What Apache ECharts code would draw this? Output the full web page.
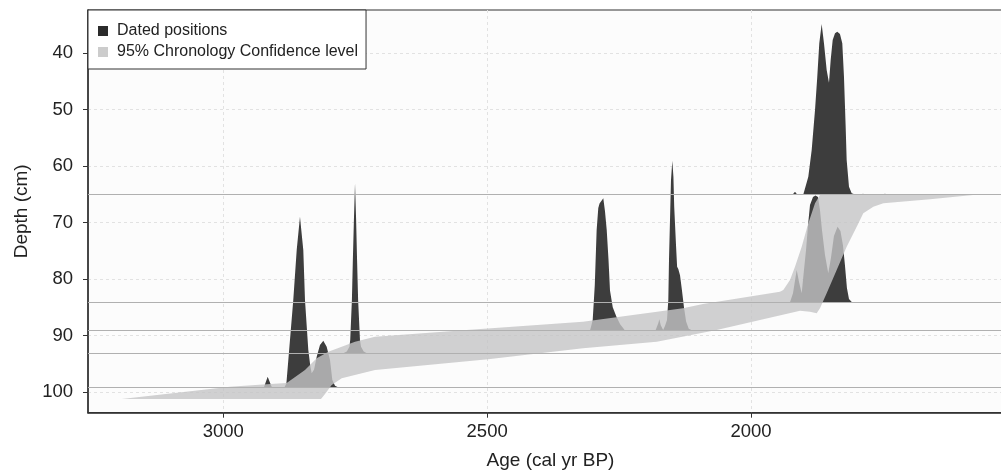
<!DOCTYPE html>
<html>
<head>
<meta charset="utf-8">
<script src="https://cdn.jsdelivr.net/npm/echarts@6/dist/echarts.min.js"></script>
<style>
  html, body { margin: 0; padding: 0; background: #fff; overflow: hidden; }
  #chart { width: 1001px; height: 474px; }
</style>
</head>
<body>
<div id="chart"></div>
<script>
const xTicks = [3000, 2500, 2000];
const yTicks = [40, 50, 60, 70, 80, 90, 100];
const datedDepths = [65.0, 84.1, 89.1, 93.15, 99.2];

// probability densities of the dated positions, [age, depth], closed on their depth line
const peak65 = [
  [1921, 65.0], [1916.6, 64.52], [1912.5, 65.0],
  [1900.9, 65.0], [1891.4, 61.86], [1885.0, 57.13], [1878.7, 50.04], [1874.4, 44.15],
  [1870.6, 38.23], [1866.1, 34.81], [1861.7, 38.23], [1856.6, 42.96], [1852.2, 45.21],
  [1849.0, 41.19], [1845.2, 37.64], [1840.8, 36.46], [1836.5, 36.17], [1831.4, 36.58],
  [1827.0, 38.23], [1823.8, 44.15], [1820.6, 53.0], [1818.7, 58.9], [1814.3, 63.63],
  [1809.2, 64.8], [1802.9, 65.0],
  [1791, 65.0], [1787.8, 64.86], [1784, 65.0], [1750, 65.0], [1746.1, 64.9], [1742, 65.0]
];
const peak84 = [
  [1926.1, 84.1], [1920.4, 82.5], [1913.4, 78.39], [1909.0, 80.5], [1903.9, 82.5],
  [1899.6, 78.39], [1895.7, 74.85], [1891.9, 70.4], [1888.2, 66.87], [1882.5, 65.45],
  [1877.8, 65.2], [1873.1, 65.45], [1869.3, 67.76], [1865.5, 71.3], [1859.8, 75.73],
  [1853.6, 78.97], [1848.5, 76.27], [1842.8, 72.37], [1836.0, 70.72], [1830.5, 71.48],
  [1825.8, 73.96], [1822.0, 77.5], [1818.2, 81.58], [1814.3, 83.53], [1808.6, 84.1]
];
const peak89a = [
  [2305.1, 89.1], [2303, 88.4], [2300, 87.25], [2296, 81.0], [2292.5, 71.3],
  [2289.4, 67.4], [2287, 66.6], [2279.9, 65.69], [2276.7, 68.0], [2273.4, 71.3],
  [2270, 76.6], [2267.2, 82.0], [2262, 85.0], [2255, 86.66], [2248, 88.0], [2238.8, 89.1]
];
const peak89b = [
  [2181, 89.1], [2175.5, 87.8], [2173.8, 87.12], [2171, 88.2], [2166.5, 89.0],
  [2163, 88.3], [2159.2, 87.25], [2156.7, 83.7], [2155.4, 76.62], [2153.5, 69.53],
  [2151.6, 62.45], [2149.1, 59.03], [2147, 61.9], [2145.5, 67.2], [2142.1, 74.0],
  [2140, 77.8], [2137.8, 78.2], [2134.5, 79.3], [2130.8, 82.0], [2127, 85.0],
  [2123, 87.5], [2118, 88.8], [2111, 89.1]
];
const peak93 = [
  [2772.6, 93.15], [2766, 92.85], [2761, 92.0], [2759.5, 90.79], [2756.3, 83.7],
  [2754.5, 76.6], [2752.5, 69.53], [2750.4, 63.03], [2748.3, 69.53], [2746.5, 76.6],
  [2744.5, 83.7], [2741, 90.79], [2739, 92.0], [2734, 92.85], [2728, 93.15]
];
const peak99 = [
  [2923, 99.17], [2915.9, 97.29], [2908, 99.17], [2884, 99.17], [2880.5, 98.5],
  [2879.9, 97.87], [2867.4, 83.7], [2860.9, 74.85], [2854.7, 68.95], [2848.4, 74.85],
  [2845.2, 83.7], [2838.9, 92.56], [2835, 95.5], [2832.5, 96.69], [2828, 96.0],
  [2823.0, 93.75], [2816.8, 91.67], [2810.5, 90.91], [2804.1, 91.98], [2797.8, 94.33],
  [2793.4, 97.87], [2788.3, 98.9], [2782.6, 99.17]
];

// 95% confidence envelope outline, [age, depth]
const band = [
  [3192.5, 101.24], [2987.3, 99.06], [2917.8, 98.64], [2879.9, 98.41], [2845.2, 96.1],
  [2823.0, 94.03], [2801.0, 92.86], [2775.6, 91.98], [2750.4, 91.09], [2712.5, 90.2],
  [2538.8, 89.02], [2318.4, 87.55], [2128.9, 85.17], [2090.9, 84.41], [1945.1, 82.23],
  [1938.8, 81.93], [1926.1, 80.16], [1916.6, 77.8], [1903.9, 74.26], [1891.4, 70.12],
  [1878.7, 66.57], [1869.3, 65.1], [1865.5, 65.0], [1569.8, 65.0],
  [1660.8, 65.86], [1749.3, 66.57], [1768.2, 67.17], [1787.2, 68.34], [1799.7, 70.72],
  [1818.7, 74.26], [1837.6, 78.39], [1856.6, 82.52], [1869.3, 85.17], [1875.5, 86.06],
  [1888.2, 85.78], [1907, 85.6], [2065.0, 89.02], [2178.7, 91.09], [2318.4, 92.26],
  [2498.4, 94.21], [2712.5, 96.1], [2775.6, 97.57], [2794.6, 98.76], [2807.3, 100.35],
  [2814.9, 101.24]
];

const PEAK = '#3d3d3d';
const BAND = 'rgba(196,196,198,0.8)';

function polygon(name, pts, fill, z) {
  return {
    type: 'custom',
    name: name,
    z: z,
    silent: true,
    clip: true,
    data: pts,
    encode: { x: 0, y: 1 },
    renderItem: function (params, api) {
      if (params.dataIndex !== 0) return null;
      return {
        type: 'polygon',
        shape: { points: pts.map(p => api.coord(p)) },
        style: { fill: fill }
      };
    }
  };
}

const chart = echarts.init(document.getElementById('chart'), null, { renderer: 'canvas' });
const font = "'Liberation Sans', Arial, Helvetica, sans-serif";

const series = [
  {
    type: 'line',
    name: 'lines',
    data: [],
    z: 1,
    silent: true,
    markLine: {
      silent: true,
      symbol: 'none',
      label: { show: false },
      lineStyle: { color: '#b0b0b0', width: 1, type: 'solid' },
      data: datedDepths.map(d => ({ yAxis: d }))
    }
  }
];
[peak65, peak84, peak89a, peak89b, peak93, peak99].forEach(p => {
  series.push(polygon('Dated positions', p, PEAK, 2));
});
series.push(polygon('95% Chronology Confidence level', band, BAND, 3));

chart.setOption({
  animation: false,
  backgroundColor: '#fff',
  textStyle: { fontFamily: font },
  grid: {
    left: 88, top: 10, width: 925, height: 402.7,
    outerBoundsMode: 'none',
    containLabel: false,
    show: true, backgroundColor: '#fcfcfc', borderColor: '#333', borderWidth: 1.2
  },
  legend: {
    left: 88, top: 10, orient: 'vertical',
    padding: [13, 8, 9, 10],
    itemWidth: 10, itemHeight: 10, itemGap: 5,
    backgroundColor: '#fff', borderColor: '#333', borderWidth: 1,
    textStyle: { fontSize: 16, color: '#222', fontFamily: font, padding: [0, 0, 0, 4] },
    data: [
      { name: 'Dated positions', icon: 'rect', itemStyle: { color: '#2b2b2b' } },
      { name: '95% Chronology Confidence level', icon: 'rect', itemStyle: { color: '#cccccc' } }
    ],
    selectedMode: false
  },
  xAxis: {
    type: 'value',
    inverse: true,
    min: 1503.5,
    max: 3256.4,
    name: 'Age (cal yr BP)',
    nameLocation: 'middle',
    nameGap: 39,
    nameTextStyle: { fontSize: 19, color: '#222', fontFamily: font },
    axisLine: { show: true, lineStyle: { color: '#333', width: 1.5 } },
    axisTick: { show: true, length: 5, customValues: xTicks, lineStyle: { color: '#333' } },
    axisLabel: {
      customValues: xTicks, fontSize: 18.5, color: '#222', margin: 10, fontFamily: font,
      formatter: v => String(v)
    },
    splitLine: { show: true, lineStyle: { color: '#e2e2e2', type: [3, 3], width: 1 } }
  },
  yAxis: {
    type: 'value',
    inverse: true,
    min: 32.33,
    max: 103.67,
    name: 'Depth (cm)',
    nameLocation: 'middle',
    nameGap: 56,
    nameTextStyle: { fontSize: 19, color: '#222', fontFamily: font },
    axisLine: { show: true, lineStyle: { color: '#333', width: 1.5 } },
    axisTick: { show: true, length: 5, customValues: yTicks, lineStyle: { color: '#333' } },
    axisLabel: {
      customValues: yTicks, fontSize: 18.5, color: '#222', margin: 15, fontFamily: font,
      formatter: v => String(v)
    },
    splitLine: { show: true, lineStyle: { color: '#e2e2e2', type: [3, 3], width: 1 } }
  },
  series: series
});
</script>
</body>
</html>
